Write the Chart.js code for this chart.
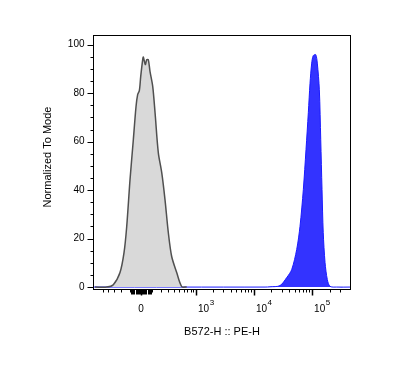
<!DOCTYPE html>
<html>
<head>
<meta charset="utf-8">
<script src="https://cdn.jsdelivr.net/npm/chart.js@4"></script>
<style>
html,body{margin:0;padding:0;background:#fff;}
canvas{display:block;}
</style>
</head>
<body>
<canvas id="c" width="397" height="371"></canvas>
<script>
// Histogram bins on the transformed (biexponential display) channel axis
const grayX = [-0.79,-0.589,-0.476,-0.361,-0.292,-0.246,-0.189,-0.132,-0.086,-0.057,-0.029,-0.005,0.029,0.040,0.074,0.098,0.125,0.155,0.201,0.241,0.297,0.356,0.412,0.469,0.527,0.613,0.699,0.785];
const grayY = [0,0,1.0,6.0,14.2,24.9,44.3,60.8,74.4,79.5,81.0,86.9,93.8,94.9,91.8,93.8,93.8,88.9,82.8,72.0,55.5,47.2,36.1,22.5,12.6,6.0,0.2,0];
const blueX = [-0.825,2.131,2.216,2.388,2.503,2.589,2.675,2.732,2.789,2.835,2.875,2.904,2.933,2.960,3.002,3.029,3.064,3.088,3.110,3.131,3.162,3.201,3.247,3.363,3.608];
const blueY = [0,0,0.1,0.6,3.9,7.2,15.5,25.1,40.2,56.7,72.0,84.1,92.4,95.5,95.9,92.4,81.4,60.8,40.2,22.5,10.1,3.1,0.3,0,0];

// Axis tick values
const yMajor = [0,20,40,60,80,100];
const yMinor = [5,10,15,25,30,35,45,50,55,65,70,75,85,90,95];
const xMajor = [0,1000,10000,100000];
const xMajorBase = ['0','10','10','10'];
const xMajorExp = ['','3','4','5'];
const xMinor = [-500,-400,-300,-200,-100,-90,-80,-70,-60,-50,-40,-30,-20,-10,
  10,20,30,40,50,60,70,80,90,100,200,300,400,500,600,700,800,900,
  2000,3000,4000,5000,6000,7000,8000,9000,
  20000,30000,40000,50000,60000,70000,80000,90000,200000,300000];
const xTitle = 'B572-H :: PE-H';
const yTitle = 'Normalized To Mode';

const W = 230;
function T(v){ return Math.asinh(v / W) / Math.LN10; }

function pts(xs, ys){ return xs.map((x,i)=>({x:x, y:ys[i]})); }

const FONT = '"Liberation Sans", Arial, sans-serif';

const axesPlugin = {
  id:'axesPlugin',
  afterDraw(chart){
    const ctx = chart.ctx, a = chart.chartArea;
    const sx = chart.scales.x, sy = chart.scales.y;
    ctx.save();
    ctx.strokeStyle = '#000';
    ctx.lineWidth = 1;
    ctx.strokeRect(Math.round(a.left)+0.5, Math.round(a.top)+0.5, Math.round(a.right-a.left)-1, Math.round(a.bottom-a.top));
    // y ticks
    const L = Math.round(a.left)+0.5;
    ctx.beginPath();
    yMajor.forEach(v=>{ const p=Math.round(sy.getPixelForValue(v))+0.5; ctx.moveTo(L-6,p); ctx.lineTo(L,p); });
    yMinor.forEach(v=>{ const p=Math.round(sy.getPixelForValue(v))+0.5; ctx.moveTo(L-3,p); ctx.lineTo(L,p); });
    ctx.stroke();
    ctx.fillStyle='#000';
    ctx.font = '10px ' + FONT;
    ctx.textAlign='right'; ctx.textBaseline='middle';
    yMajor.forEach(v=>{ ctx.fillText(String(v), L-9, sy.getPixelForValue(v)); });
    // x ticks
    const B = Math.round(a.bottom)+0.5;
    ctx.beginPath();
    xMinor.forEach(v=>{ const d=T(v); if(d<sx.min||d>sx.max) return; const p=Math.round(sx.getPixelForValue(d))+0.5; const len = Math.abs(v)<100 ? 5 : 3; ctx.moveTo(p,B); ctx.lineTo(p,B+len); });
    ctx.stroke();
    ctx.lineWidth = 1.5;
    ctx.beginPath();
    xMajor.forEach(v=>{ const p=Math.round(sx.getPixelForValue(T(v)))+0.5; ctx.moveTo(p,B); ctx.lineTo(p,B+6); });
    ctx.stroke();
    ctx.textBaseline='alphabetic';
    xMajor.forEach((v,i)=>{
      const p = sx.getPixelForValue(T(v));
      if(!xMajorExp[i]){
        ctx.font = '10px ' + FONT;
        ctx.textAlign='center';
        ctx.fillText(xMajorBase[i], p, B+22);
      } else {
        ctx.font = '10px ' + FONT;
        ctx.textAlign='left';
        const bw = ctx.measureText(xMajorBase[i]).width;
        ctx.fillText(xMajorBase[i], p+2, B+22);
        ctx.font = '8px ' + FONT;
        ctx.fillText(xMajorExp[i], p+2+bw+0.5, B+15);
      }
    });
    // titles
    ctx.font = '11px ' + FONT;
    ctx.textAlign='center'; ctx.textBaseline='middle';
    ctx.fillText(xTitle, (a.left+a.right)/2, 332);
    ctx.translate(48, 157);
    ctx.rotate(-Math.PI/2);
    ctx.fillText(yTitle, 0, 0);
    ctx.restore();
  }
};

new Chart(document.getElementById('c'), {
  type:'line',
  data:{
    datasets:[
      {data:pts(grayX,grayY), borderColor:'#505050', backgroundColor:'#d9d9d9', borderWidth:1.5, fill:'origin', pointRadius:0, tension:0.3},
      {data:pts(blueX,blueY), borderColor:'#1a1aff', backgroundColor:'#3333ff', borderWidth:1, fill:'origin', pointRadius:0, tension:0.3}
    ]
  },
  options:{
    responsive:false,
    animation:false,
    devicePixelRatio:1,
    layout:{padding:{left:93,right:46,top:35,bottom:82}},
    plugins:{legend:{display:false}, tooltip:{enabled:false}},
    scales:{
      x:{type:'linear', min:-0.825, max:3.608, display:false},
      y:{type:'linear', min:-0.8, max:104, display:false}
    }
  },
  plugins:[axesPlugin]
});
</script>
</body>
</html>
